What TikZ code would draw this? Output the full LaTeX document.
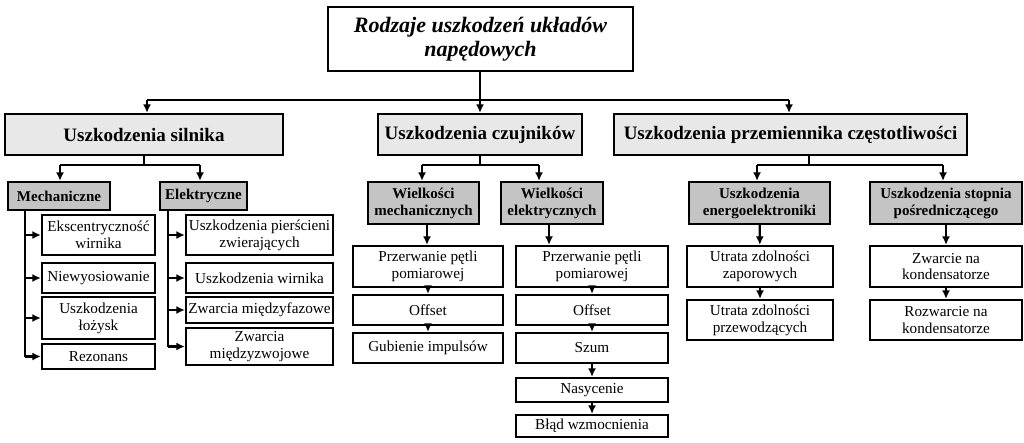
\documentclass[tikz,border=0pt]{standalone}
\usepackage{fontspec}
\setmainfont{Liberation Serif}
\usetikzlibrary{arrows.meta}
\definecolor{mainfill}{RGB}{232,232,232}
\definecolor{subfill}{RGB}{196,196,196}
\begin{document}
\begin{tikzpicture}[x=1pt,y=-1pt,
  box/.style={draw=black, line width=2.2pt, rectangle, inner sep=1pt, align=center},
  topbox/.style={box, fill=white, font=\fontsize{22}{24}\selectfont\bfseries\itshape},
  mainbox/.style={box, fill=mainfill, font=\fontsize{19}{21}\selectfont\bfseries},
  subbox/.style={box, fill=subfill, font=\fontsize{15}{17}\selectfont\bfseries},
  leaf/.style={box, fill=white, font=\fontsize{15.2}{16.9}\selectfont},
  link/.style={line width=2.2pt},
  arr/.style={link, -{Latex[length=8.5pt,width=8pt]}}
]
\useasboundingbox (0,0) rectangle (1024,442);

% root
\node[topbox, minimum width=305, minimum height=64] (top) at (480.5,39) {Rodzaje uszkodzeń układów\\napędowych};

% main groups
\node[mainbox, minimum width=278, minimum height=41] (sil) at (144,134.5) {Uszkodzenia silnika};
\node[mainbox, minimum width=204, minimum height=41] (czu) at (480,134.5) {Uszkodzenia czujników};
\node[mainbox, minimum width=353, minimum height=41] (prz) at (790.5,134.5) {Uszkodzenia przemiennika częstotliwości};

% motor subgroups
\node[subbox, minimum width=102, minimum height=28] (mech) at (59,196) {Mechaniczne};
\node[subbox, minimum width=87, minimum height=28] (elek) at (203.5,196) {Elektryczne};

\node[leaf, minimum width=113, minimum height=40] (m1) at (98.5,235) {Ekscentryczność\\wirnika};
\node[leaf, minimum width=113, minimum height=30] (m2) at (98.5,278) {Niewyosiowanie};
\node[leaf, minimum width=113, minimum height=42] (m3) at (98.5,318) {Uszkodzenia\\łożysk};
\node[leaf, minimum width=113, minimum height=25] (m4) at (98.5,356.5) {Rezonans};

\node[leaf, minimum width=147, minimum height=40] (e1) at (259.5,235) {Uszkodzenia pierścieni\\zwierających};
\node[leaf, minimum width=147, minimum height=30] (e2) at (259.5,278) {Uszkodzenia wirnika};
\node[leaf, minimum width=147, minimum height=26] (e3) at (259.5,310) {Zwarcia międzyfazowe};
\node[leaf, minimum width=147, minimum height=37] (e4) at (259.5,346.5) {Zwarcia\\międzyzwojowe};

% sensor subgroups
\node[subbox, minimum width=111, minimum height=42] (wm) at (423.5,203) {Wielkości\\mechanicznych};
\node[subbox, minimum width=102, minimum height=42] (we) at (552,203) {Wielkości\\elektrycznych};

\node[leaf, minimum width=150, minimum height=41] (cm1) at (428,266.5) {Przerwanie pętli\\pomiarowej};
\node[leaf, minimum width=150, minimum height=30] (cm2) at (428,310) {Offset};
\node[leaf, minimum width=150, minimum height=30] (cm3) at (428,348) {Gubienie impulsów};

\node[leaf, minimum width=152, minimum height=41] (ce1) at (592,266.5) {Przerwanie pętli\\pomiarowej};
\node[leaf, minimum width=152, minimum height=30] (ce2) at (592,310) {Offset};
\node[leaf, minimum width=152, minimum height=30] (ce3) at (592,348) {Szum};
\node[leaf, minimum width=152, minimum height=24] (ce4) at (592,390) {Nasycenie};
\node[leaf, minimum width=152, minimum height=22] (ce5) at (592,426) {Błąd wzmocnienia};

% converter subgroups
\node[subbox, minimum width=141, minimum height=42] (en) at (759.5,203) {Uszkodzenia\\energoelektroniki};
\node[subbox, minimum width=152, minimum height=42] (st) at (946,203) {Uszkodzenia stopnia\\pośredniczącego};

\node[leaf, minimum width=146, minimum height=41] (en1) at (760,266.5) {Utrata zdolności\\zaporowych};
\node[leaf, minimum width=146, minimum height=40] (en2) at (760,320) {Utrata zdolności\\przewodzących};
\node[leaf, minimum width=152, minimum height=41] (st1) at (946,266.5) {Zwarcie na\\kondensatorze};
\node[leaf, minimum width=152, minimum height=40] (st2) at (946,320) {Rozwarcie na\\kondensatorze};

% root distribution bus
\coordinate (busL) at (147,100);
\coordinate (busM) at (480,100);
\coordinate (busR) at (789,100);
\draw[link] (busL) -- (busR);
\draw[link] (top.south -| busM) -- (busM);
\draw[arr] (busM) -- (czu.north);
\draw[arr] (busL) -- (busL |- sil.north);
\draw[arr] (busR) -- (busR |- prz.north);

% motor branch
\coordinate (sL) at (60,165);
\coordinate (sR) at (200,165);
\draw[link] (sil.south) -- (sil.south |- sL);
\draw[link] (sL) -- (sR);
\draw[arr] (sL) -- (sL |- mech.north);
\draw[arr] (sR) -- (sR |- elek.north);

\coordinate (mt) at (25,210);
\draw[link] (mt) -- (25,356.5);
\foreach \n in {m1,m2,m3,m4} \draw[arr] (mt |- \n.west) -- (\n.west);
\coordinate (et) at (168,210);
\draw[link] (et) -- (168,346.5);
\foreach \n in {e1,e2,e3,e4} \draw[arr] (et |- \n.west) -- (\n.west);

% sensor branch
\coordinate (cL) at (422,165);
\coordinate (cR) at (539,165);
\draw[link] (czu.south) -- (czu.south |- cL);
\draw[link] (cL) -- (cR);
\draw[arr] (cL) -- (cL |- wm.north);
\draw[arr] (cR) -- (cR |- we.north);
\coordinate (wmo) at (427,224);
\draw[arr] (wmo) -- (wmo |- cm1.north);
\draw[arr] (cm1) -- (cm2);
\draw[arr] (cm2) -- (cm3);
\coordinate (weo) at (549,224);
\draw[arr] (weo) -- (weo |- ce1.north);
\draw[arr] (ce1) -- (ce2);
\draw[arr] (ce2) -- (ce3);
\draw[arr] (ce3) -- (ce4);
\draw[arr] (ce4) -- (ce5);

% converter branch
\coordinate (pL) at (757,165);
\coordinate (pR) at (943,165);
\coordinate (pT) at (809,155);
\draw[link] (pT) -- (pT |- pL);
\draw[link] (pL) -- (pR);
\draw[arr] (pL) -- (pL |- en.north);
\draw[arr] (pR) -- (pR |- st.north);
\draw[arr] (en) -- (en1);
\draw[arr] (en1) -- (en2);
\draw[arr] (st) -- (st1);
\draw[arr] (st1) -- (st2);
\end{tikzpicture}
\end{document}
